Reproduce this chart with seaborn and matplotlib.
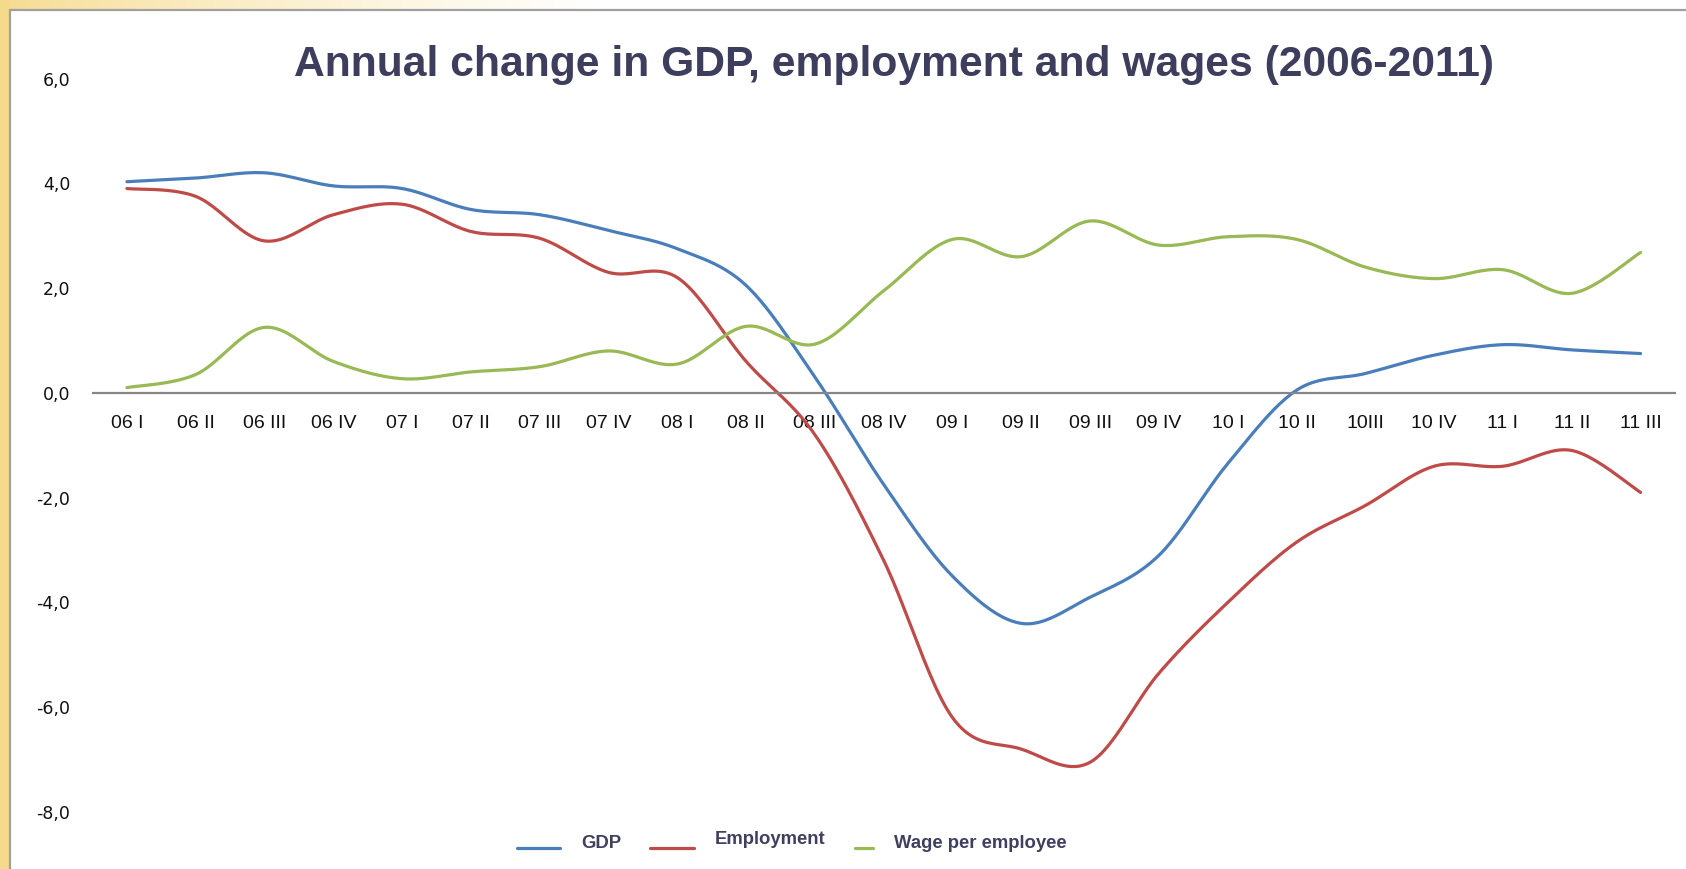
import numpy as np
import pandas as pd
import matplotlib
matplotlib.use("Agg")
import matplotlib.pyplot as plt
from matplotlib.patches import Rectangle
from matplotlib.lines import Line2D
from matplotlib.ticker import FuncFormatter
import seaborn as sns

# Quarterly data, annual % change
quarters = ["06 I", "06 II", "06 III", "06 IV", "07 I", "07 II", "07 III", "07 IV",
            "08 I", "08 II", "08 III", "08 IV", "09 I", "09 II", "09 III", "09 IV",
            "10 I", "10 II", "10III", "10 IV", "11 I", "11 II", "11 III"]
gdp = [4.03, 4.10, 4.20, 3.95, 3.90, 3.50, 3.40, 3.10, 2.75, 2.05, 0.30, -1.75,
       -3.50, -4.40, -3.90, -3.10, -1.35, 0.05, 0.37, 0.72, 0.92, 0.82, 0.75]
employment = [3.90, 3.75, 2.90, 3.40, 3.60, 3.08, 2.95, 2.30, 2.20, 0.60, -0.80, -3.20,
              -6.20, -6.80, -7.05, -5.35, -4.00, -2.85, -2.15, -1.40, -1.40, -1.10, -1.90]
wages = [0.10, 0.35, 1.25, 0.60, 0.27, 0.40, 0.50, 0.80, 0.55, 1.27, 0.93, 1.95,
         2.93, 2.60, 3.28, 2.82, 2.98, 2.93, 2.40, 2.18, 2.35, 1.90, 2.68]
series_names = ["GDP", "Employment", "Wage per employee"]
colors = ["#4A7EBB", "#BE4B48", "#98B954"]
y_ticks = [6, 4, 2, 0, -2, -4, -6, -8]
title = "Annual change in GDP, employment and wages (2006-2011)"


def smooth(values, steps=24):
    """Catmull-Rom curve through the points (spreadsheet-style smoothed line)."""
    p = np.asarray(values, dtype=float)
    x = np.arange(len(p), dtype=float)
    px = np.concatenate([[x[0]], x, [x[-1]]])
    py = np.concatenate([[p[0]], p, [p[-1]]])
    xs, ys = [], []
    t = np.linspace(0, 1, steps, endpoint=False)
    for i in range(1, len(px) - 2):
        for arr, out in ((px, xs), (py, ys)):
            p0, p1, p2, p3 = arr[i - 1], arr[i], arr[i + 1], arr[i + 2]
            c1 = p1 + (p2 - p0) / 6.0
            c2 = p2 - (p3 - p1) / 6.0
            out.extend((1 - t) ** 3 * p1 + 3 * (1 - t) ** 2 * t * c1
                       + 3 * (1 - t) * t ** 2 * c2 + t ** 3 * p2)
    xs.append(x[-1])
    ys.append(p[-1])
    return np.array(xs), np.array(ys)


frames = []
for name, vals in zip(series_names, [gdp, employment, wages]):
    sx, sy = smooth(vals)
    frames.append(pd.DataFrame({"x": sx, "y": sy, "series": name}))
df = pd.concat(frames, ignore_index=True)

sns.set_theme(style="white")
plt.rcParams["font.family"] = ["Liberation Sans", "DejaVu Sans"]

W, H = 1686, 869
fig = plt.figure(figsize=(W / 100, H / 100), dpi=100)
fig.patch.set_facecolor("white")

# Slide frame: yellow strip on the left, fading band on top, grey border lines
bg = fig.add_axes([0, 0, 1, 1], zorder=-5)
bg.set_xlim(0, W)
bg.set_ylim(H, 0)
bg.axis("off")
grad = np.linspace(0, 1, 400)
band = np.ones((1, 400, 3))
yellow = np.array([0.965, 0.855, 0.545])
for k in range(3):
    band[0, :, k] = yellow[k] + (1 - yellow[k]) * np.clip(grad * 1.0, 0, 1) ** 0.7
bg.imshow(band, extent=[0, 600, 10, 0], aspect="auto", zorder=0)
bg.add_patch(Rectangle((0, 0), 9, H, color=yellow, zorder=1))
bg.add_line(Line2D([9.5, 9.5], [10, H], color="#A0A0A0", lw=1.6, zorder=2))
bg.add_line(Line2D([9.5, W], [10, 10], color="#A0A0A0", lw=1.6, zorder=2))

left, right = 92.5, 1675
top, bottom = 78.5, 812
ax = fig.add_axes([left / W, 1 - bottom / H, (right - left) / W, (bottom - top) / H])
ax.set_facecolor("none")

sns.lineplot(data=df, x="x", y="y", hue="series", palette=colors,
             hue_order=series_names, sort=False, estimator=None,
             linewidth=2.3, legend=False, ax=ax)

ax.set_xlim(-0.5, len(quarters) - 0.5)
ax.set_ylim(-8, 6)
ax.set_xlabel("")
ax.set_ylabel("")
for s in ["top", "right", "left"]:
    ax.spines[s].set_visible(False)
ax.spines["bottom"].set_position(("data", 0))
ax.spines["bottom"].set_color("#868686")
ax.spines["bottom"].set_linewidth(1.6)

ax.set_xticks(range(len(quarters)))
ax.set_xticklabels(quarters, fontsize=14, color="#111111")
ax.tick_params(axis="x", length=0, pad=16)
ax.set_yticks(y_ticks)
ax.yaxis.set_major_formatter(FuncFormatter(lambda v, _: f"{v:.1f}".replace(".", ",")))
ax.tick_params(axis="y", length=0, pad=16)
for lbl in ax.get_yticklabels():
    lbl.set_fontfamily("DejaVu Sans")
    lbl.set_fontsize(12.5)
    lbl.set_color("#111111")

fig.text(894 / W, 1 - 65 / H, title, ha="center", va="center",
         fontsize=30.7, fontweight="bold", color="#3D3D5E")

# Legend along the bottom
navy = "#3F3F5F"
legend_items = [
    (517, 560, 581, 843, "GDP"),
    (650, 694, 715, 839, "Employment"),
    (855, 873, 894, 843, "Wage per employee"),
]
for (x0, x1, tx, ty, name), col in zip(legend_items, colors):
    bg.add_line(Line2D([x0, x1], [848, 848], color=col, lw=2.3, zorder=3))
    bg.text(tx, ty, name, ha="left", va="center", fontsize=13.3,
            fontweight="bold", color=navy, zorder=3)

fig.savefig("out.png", dpi=100)
